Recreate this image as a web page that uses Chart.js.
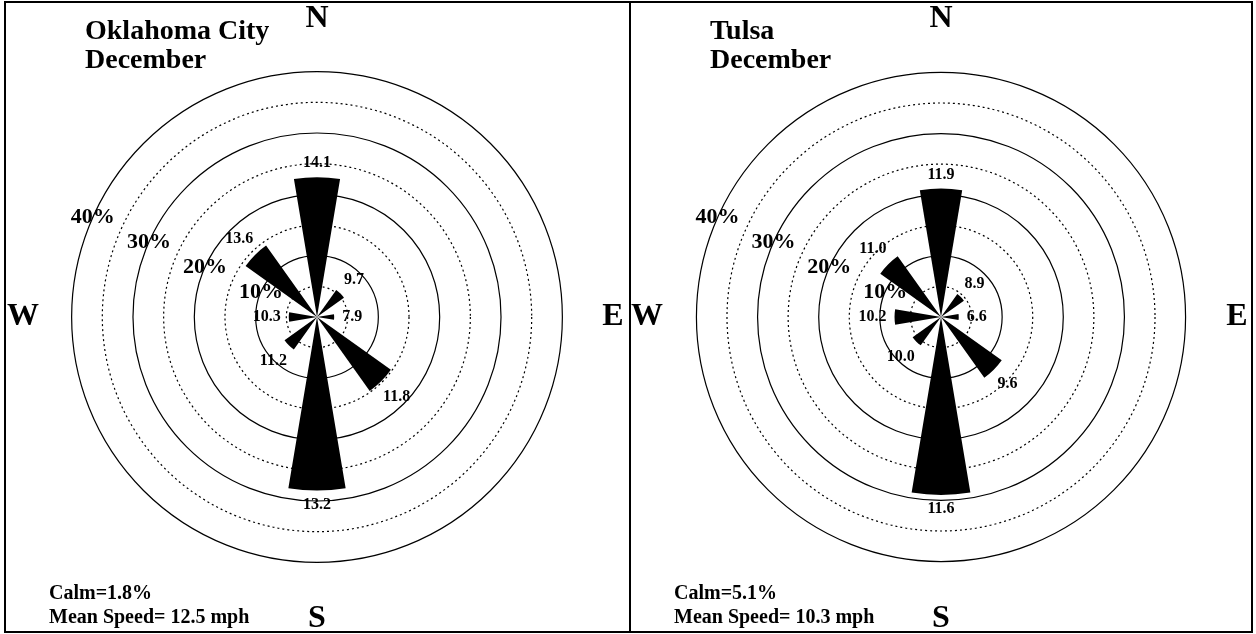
<!DOCTYPE html>
<html>
<head>
<meta charset="utf-8">
<script src="https://cdn.jsdelivr.net/npm/chart.js@4.4.1/dist/chart.umd.min.js"></script>
<style>
  html, body { margin: 0; padding: 0; background: #fff; }
  #frame { position: absolute; left: 4px; top: 1px; border: 2px solid #000; display: flex; }
  #frame canvas { display: block; }
  #divider { width: 2px; background: #000; }
</style>
</head>
<body>
<div id="frame">
  <canvas id="okc" width="623" height="628"></canvas>
  <div id="divider"></div>
  <canvas id="tulsa" width="620" height="628"></canvas>
</div>
<script>
// Wind roses, December: frequency (%) and mean speed (mph) per direction

var DIRECTIONS = ["N", "NE", "E", "SE", "S", "SW", "W", "NW"];

var OKC_FREQ = [22.8, 5.4, 2.8, 14.8, 28.3, 6.5, 4.6, 14.3];
var OKC_SPEED = ["14.1", "9.7", "7.9", "11.8", "13.2", "11.2", "10.3", "13.6"];

var TULSA_FREQ = [21.0, 4.6, 2.9, 12.2, 29.1, 5.7, 7.6, 12.2];
var TULSA_SPEED = ["11.9", "8.9", "6.6", "9.6", "11.6", "10.0", "10.2", "11.0"];

var RING_LABELS = [10, 20, 30, 40];

var SERIF = "'Liberation Serif', 'Times New Roman', serif";
var RMAX = 50.7;		// outer 40% ring sits a bit inside the panel
var WEDGE = 19, GAP = 26;	// degrees

// text drawn around each rose
var roseText = {
	id: "roseText",
	afterDraw: function (chart) {
		var ctx = chart.ctx, scale = chart.scales.r, info = chart.options.plugins.roseText;
		var cx = scale.xCenter, cy = scale.yCenter, i, a, r, w, off;

		ctx.save();
		ctx.fillStyle = "#000";
		ctx.textAlign = "center";
		ctx.textBaseline = "middle";

		// mean speed at the tip of each petal
		ctx.font = "bold 16px " + SERIF;
		for (i = 0; i < DIRECTIONS.length; i++) {
			a = i * Math.PI / 4;
			r = scale.getDistanceFromCenterForValue(info.freq[i]);
			w = ctx.measureText(info.speed[i]).width;
			off = 8 + Math.abs(Math.sin(a)) * w / 2 + Math.abs(Math.cos(a)) * 6;
			ctx.fillText(info.speed[i], cx + Math.sin(a) * (r + off), cy - Math.cos(a) * (r + off));
		}

		// ring percentages, up and left of centre
		ctx.font = "bold 22px " + SERIF;
		a = 24 * Math.PI / 180;
		for (i = 0; i < RING_LABELS.length; i++) {
			r = scale.getDistanceFromCenterForValue(RING_LABELS[i]);
			ctx.fillText(RING_LABELS[i] + "%", cx - Math.cos(a) * r, cy - Math.sin(a) * r);
		}

		// compass letters
		ctx.font = "bold 32px " + SERIF;
		ctx.fillText("N", cx, cy - 298);
		ctx.fillText("E", cx + 296, cy);
		ctx.fillText("S", cx, cy + 302);
		ctx.fillText("W", cx - 294, cy);

		// title and footer
		ctx.textAlign = "left";
		ctx.textBaseline = "alphabetic";
		ctx.font = "bold 28px " + SERIF;
		ctx.fillText(info.title[0], 79, 36);
		ctx.fillText(info.title[1], 79, 65);
		ctx.font = "bold 20px " + SERIF;
		ctx.fillText(info.calm, 43, 596);
		ctx.fillText(info.mean, 43, 620);
		ctx.restore();
	}
};

function makeRose(id, freq, speed, title, calm, mean) {
	var data = [], colors = [], labels = [];

	// each direction is a narrow wedge followed by an empty gap
	for (var i = 0; i < DIRECTIONS.length; i++) {
		data.push(freq[i], 0);
		colors.push("#000", "rgba(0,0,0,0)");
		labels.push(DIRECTIONS[i], "");
	}

	return new Chart(document.getElementById(id), {
		type: "polarArea",
		data: {
			labels: labels,
			datasets: [{
				data: data,
				backgroundColor: colors,
				borderWidth: 0,
				angle: function (c) { return c.dataIndex % 2 === 0 ? WEDGE : GAP; }
			}]
		},
		options: {
			responsive: false,
			animation: false,
			events: [],
			layout: { padding: 0 },
			scales: {
				r: {
					min: 0,
					max: RMAX,
					startAngle: -WEDGE / 2,
					ticks: { display: false, stepSize: 5 },
					grid: {
						circular: true,
						lineWidth: 1.2,
						color: function (c) { return c.tick && c.tick.value <= 40 ? "#000" : "rgba(0,0,0,0)"; }
					},
					border: {
						dash: function (c) { return c.tick && c.tick.value % 10 === 5 ? [2, 3] : []; }
					},
					angleLines: { display: false },
					pointLabels: { display: false }
				}
			},
			plugins: {
				legend: { display: false },
				tooltip: { enabled: false },
				roseText: { freq: freq, speed: speed, title: title, calm: calm, mean: mean }
			}
		},
		plugins: [roseText]
	});
}

makeRose("okc", OKC_FREQ, OKC_SPEED, ["Oklahoma City", "December"], "Calm=1.8%", "Mean Speed= 12.5 mph");
makeRose("tulsa", TULSA_FREQ, TULSA_SPEED, ["Tulsa", "December"], "Calm=5.1%", "Mean Speed= 10.3 mph");
</script>
</body>
</html>
